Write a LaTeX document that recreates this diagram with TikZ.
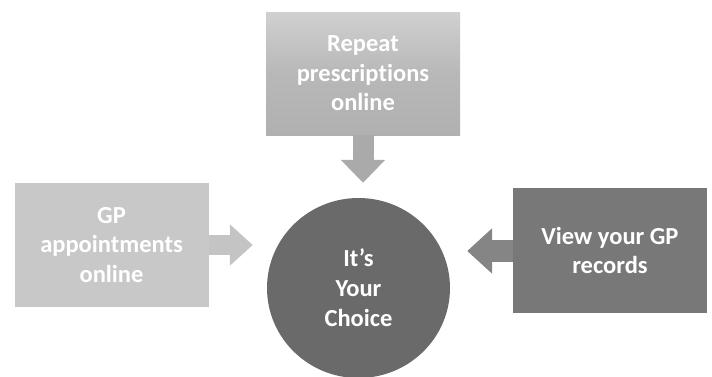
\documentclass[tikz,border=0pt]{standalone}
\usepackage{fontspec}
\setmainfont{Carlito}[Ligatures=NoCommon]
\usetikzlibrary{arrows.meta,shapes.geometric}
\definecolor{topbox}{HTML}{B0B0B0}
\definecolor{topboxlight}{HTML}{D0D0D0}
\definecolor{leftbox}{HTML}{C8C8C8}
\definecolor{rightbox}{HTML}{787878}
\definecolor{circfill}{HTML}{6A6A6A}
\definecolor{downarrow}{HTML}{AAAAAA}
\definecolor{leftarrow}{HTML}{C4C4C4}
\definecolor{rightarrow}{HTML}{858585}
\begin{document}
\begin{tikzpicture}[x=1pt,y=-1pt,
  boxnode/.style={rectangle,inner sep=0pt,align=center,text=white,
    font=\fontsize{24.5}{29.5}\selectfont\bfseries,minimum width=194pt,minimum height=124pt},
]
\useasboundingbox (0,0) rectangle (712,376);
\node[boxnode,top color=topboxlight,bottom color=topbox,middle color=topbox!90!white,minimum height=123pt] (top) at (363,73.5) {Repeat\\prescriptions\\online};
\node[boxnode,fill=leftbox] (left) at (111.5,245) {GP\\appointments\\online};
\node[boxnode,fill=rightbox,minimum height=125pt] (right) at (610,250.5) {View your GP\\records};
\node[ellipse,fill=circfill,minimum width=183pt,minimum height=180pt,inner sep=0pt,align=center,text=white,
  font=\fontsize{24.5}{30}\selectfont\bfseries] (circ) at (358.5,288) {It’s\\Your\\Choice};
\draw[downarrow,line width=21pt,-{Triangle[length=23pt,width=43pt]},shorten >=15pt]
  (top.south) -- (top.south |- circ.north);
\draw[leftarrow,line width=20pt,-{Triangle[length=23pt,width=40pt]},shorten >=14pt]
  (left.east) -- (left.east -| circ.west);
\draw[rightarrow,line width=22pt,-{Triangle[length=25pt,width=44pt]},shorten >=17pt]
  ([yshift=-0.5pt]right.west) -- ([yshift=-0.5pt]right.west -| circ.east);
\end{tikzpicture}
\end{document}
